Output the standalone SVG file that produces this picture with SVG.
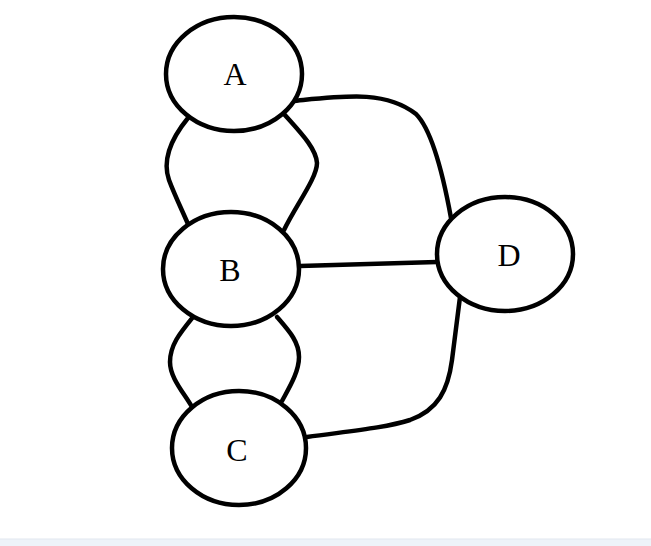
<svg xmlns="http://www.w3.org/2000/svg" width="651" height="546" viewBox="0 0 651 546">
<style>
.node{fill:#fff;stroke:#000;stroke-width:4.5}
.edge{fill:none;stroke:#000;stroke-width:4.5;stroke-linecap:round}
.lbl{font-family:"Liberation Serif","DejaVu Serif",serif;font-size:32px;fill:#000;text-anchor:middle}
</style>
<rect x="0" y="0" width="651" height="546" fill="#fff"/>
<rect x="0" y="539" width="651" height="7" fill="#eef3f9"/>
<line x1="0" y1="539" x2="651" y2="539" stroke="#e1e7ef" stroke-width="1"/>
<g id="connectors">
<path class="edge" d="M188,118 C170,140 162,160 169,180 C175,196 182,210 188,224"/>
<path class="edge" d="M284,114 C300,132 316,148 317,163 C317,178 296,205 284,230"/>
<path class="edge" d="M193,317 C180,333 170,345 170,362 C170,378 184,393 192,407"/>
<path class="edge" d="M277,317 C290,332 299,342 299,357 C299,372 289,388 282,401"/>
<path class="edge" d="M292,101 C345,96 385,90 416,114 C434,132 445,185 451,218"/>
<path class="edge" d="M300,266 L437,262"/>
<path class="edge" d="M307,437 C350,431 385,428 410,420 C438,410 448,390 452,360 L460,297"/>
</g>
<g id="node-A"><ellipse class="node" cx="234" cy="74" rx="68" ry="57"/><text class="lbl" x="235" y="85">A</text></g>
<g id="node-B"><ellipse class="node" cx="231" cy="269" rx="68" ry="57"/><text class="lbl" x="230" y="281">B</text></g>
<g id="node-C"><ellipse class="node" cx="239" cy="448" rx="67" ry="57"/><text class="lbl" x="237" y="461">C</text></g>
<g id="node-D"><ellipse class="node" cx="505" cy="254" rx="68" ry="57"/><text class="lbl" x="509" y="266">D</text></g>
</svg>
